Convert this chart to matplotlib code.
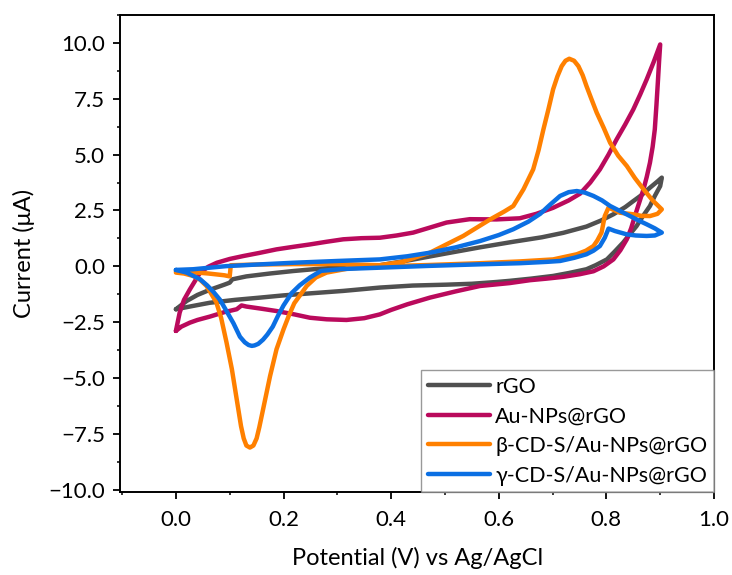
import matplotlib

matplotlib.use("Agg")
import matplotlib.pyplot as plt
from matplotlib.ticker import MultipleLocator, FuncFormatter

plt.rcParams["font.family"] = ["Lato", "DejaVu Sans"]

# ==================== Data ====================
labels = ["rGO", "Au-NPs@rGO", "β-CD-S/Au-NPs@rGO", "γ-CD-S/Au-NPs@rGO"]
colors = ["#505050", "#BA0A5C", "#FF8000", "#0B6FE3"]

# rGO: anodic scan 0 -> 0.9 V, then cathodic scan back to 0 V
rgo_v = [0.0, 0.02, 0.04, 0.063, 0.09, 0.10, 0.105, 0.131, 0.175, 0.218,
         0.26, 0.311, 0.379, 0.44, 0.503, 0.565, 0.627, 0.68, 0.72, 0.763,
         0.79, 0.813, 0.835, 0.850, 0.866, 0.881, 0.895, 0.903,
         0.900, 0.89, 0.881, 0.868, 0.856, 0.843, 0.831, 0.815, 0.801, 0.78,
         0.763, 0.73, 0.701, 0.66, 0.62, 0.596, 0.55, 0.503, 0.44, 0.379,
         0.311, 0.249, 0.2, 0.156, 0.11, 0.063, 0.03, 0.0]
rgo_i = [-1.92, -1.55, -1.28, -1.05, -0.82, -0.73, -0.58, -0.45, -0.32, -0.21,
         -0.12, -0.04, 0.05, 0.30, 0.58, 0.85, 1.10, 1.30, 1.50, 1.78,
         2.05, 2.33, 2.65, 2.92, 3.20, 3.52, 3.80, 3.97,
         3.59, 3.15, 2.70, 2.25, 1.80, 1.42, 1.06, 0.65, 0.31, 0.05,
         -0.13, -0.30, -0.43, -0.55, -0.65, -0.70, -0.78, -0.82, -0.86, -0.95,
         -1.10, -1.21, -1.30, -1.40, -1.50, -1.63, -1.78, -1.92]

au_v = [0.0, 0.007, 0.015, 0.026, 0.045, 0.06, 0.076, 0.10, 0.125, 0.155,
        0.187, 0.22, 0.249, 0.28, 0.311, 0.345, 0.379, 0.41, 0.441, 0.47,
        0.503, 0.546, 0.596, 0.639, 0.67, 0.701, 0.73, 0.751, 0.77, 0.788,
        0.804, 0.819, 0.835, 0.850, 0.863, 0.875, 0.888, 0.900,
        0.898, 0.896, 0.893, 0.890, 0.886, 0.881, 0.875, 0.869, 0.861, 0.853,
        0.846, 0.838, 0.826, 0.813, 0.795, 0.776, 0.751, 0.72, 0.689, 0.658,
        0.62, 0.565, 0.52, 0.472, 0.43, 0.40, 0.379, 0.35, 0.317, 0.28,
        0.249, 0.22, 0.187, 0.16, 0.131, 0.122, 0.113, 0.09, 0.063, 0.04,
        0.026, 0.01, 0.0]
au_i = [-2.89, -2.07, -1.50, -1.03, -0.28, -0.02, 0.16, 0.33, 0.46, 0.60,
        0.76, 0.88, 0.98, 1.10, 1.21, 1.26, 1.28, 1.38, 1.51, 1.72,
        1.96, 2.11, 2.10, 2.15, 2.35, 2.62, 2.95, 3.25, 3.75, 4.34,
        5.00, 5.68, 6.35, 7.02, 7.70, 8.37, 9.15, 9.93,
        9.20, 8.37, 7.20, 6.13, 5.35, 4.64, 4.00, 3.45, 2.85, 2.25,
        1.70, 1.21, 0.72, 0.31, 0.0, -0.22, -0.35, -0.47, -0.55, -0.62,
        -0.75, -0.88, -1.12, -1.40, -1.70, -1.95, -2.15, -2.32, -2.40, -2.37,
        -2.30, -2.15, -2.00, -1.90, -1.80, -1.75, -1.92, -2.05, -2.25, -2.40,
        -2.52, -2.70, -2.89]

beta_v = [0.0, 0.03, 0.06, 0.09, 0.10, 0.102, 0.15, 0.218, 0.30, 0.379,
          0.42, 0.472, 0.534, 0.584, 0.61, 0.627, 0.646, 0.664, 0.674, 0.683,
          0.692, 0.701, 0.709, 0.717, 0.724, 0.731, 0.74, 0.748, 0.756, 0.763,
          0.772, 0.782, 0.795, 0.807, 0.822, 0.838, 0.853, 0.869, 0.886, 0.903,
          0.895, 0.881, 0.865, 0.850, 0.825, 0.804, 0.797, 0.791, 0.783, 0.776,
          0.762, 0.745, 0.701, 0.639, 0.565, 0.47, 0.379, 0.32, 0.28, 0.26,
          0.243, 0.232, 0.22, 0.21, 0.20, 0.187, 0.175, 0.162, 0.155, 0.150,
          0.144, 0.1375, 0.131, 0.126, 0.121, 0.116, 0.104, 0.094, 0.084,
          0.075, 0.057, 0.045, 0.032, 0.015, 0.0]
beta_i = [-0.22, -0.26, -0.32, -0.40, -0.45, 0.05, 0.08, 0.10, 0.10, 0.05,
          0.20, 0.61, 1.36, 2.10, 2.45, 2.70, 3.45, 4.34, 5.20, 6.13,
          7.00, 7.92, 8.50, 8.96, 9.20, 9.29, 9.20, 8.96, 8.55, 8.07,
          7.50, 6.88, 6.20, 5.53, 4.95, 4.49, 3.95, 3.45, 2.95, 2.55,
          2.35, 2.25, 2.26, 2.33, 2.40, 2.63, 2.25, 1.51, 1.15, 0.91,
          0.70, 0.54, 0.31, 0.22, 0.14, 0.06, 0.0, -0.10, -0.28, -0.50,
          -0.88, -1.25, -1.65, -2.20, -2.82, -3.71, -4.91, -6.40, -7.20, -7.70,
          -8.02, -8.11, -8.02, -7.70, -7.15, -6.40, -4.60, -3.40, -2.30,
          -1.60, -0.88, -0.60, -0.43, -0.32, -0.28]

gamma_v = [0.0, 0.032, 0.094, 0.15, 0.218, 0.30, 0.379, 0.43, 0.472, 0.52,
           0.565, 0.60, 0.627, 0.655, 0.677, 0.695, 0.714, 0.73, 0.745, 0.76,
           0.776, 0.792, 0.807, 0.825, 0.844, 0.86, 0.875, 0.89, 0.903,
           0.89, 0.875, 0.855, 0.838, 0.816, 0.804, 0.797, 0.788, 0.776, 0.763,
           0.74, 0.714, 0.689, 0.639, 0.565, 0.47, 0.379, 0.31, 0.27, 0.249,
           0.23, 0.215, 0.20, 0.19, 0.18, 0.17, 0.162, 0.153, 0.146, 0.141,
           0.135, 0.128, 0.119, 0.107, 0.094, 0.082, 0.07, 0.058, 0.045, 0.02,
           0.0]
gamma_i = [-0.16, -0.13, 0.01, 0.08, 0.16, 0.24, 0.31, 0.45, 0.61, 0.85,
           1.13, 1.40, 1.66, 2.00, 2.35, 2.75, 3.15, 3.32, 3.37, 3.30,
           3.15, 2.95, 2.70, 2.48, 2.25, 2.05, 1.88, 1.70, 1.51,
           1.38, 1.36, 1.38, 1.43, 1.58, 1.69, 1.28, 0.91, 0.70, 0.54,
           0.38, 0.24, 0.20, 0.14, 0.09, 0.02, -0.06, -0.12, -0.20, -0.50,
           -0.85, -1.20, -1.75, -2.20, -2.70, -3.05, -3.28, -3.47, -3.54, -3.56,
           -3.52, -3.40, -3.15, -2.55, -2.00, -1.50, -1.15, -0.85, -0.58, -0.28,
           -0.16]

series_v = [rgo_v, au_v, beta_v, gamma_v]
series_i = [rgo_i, au_i, beta_i, gamma_i]

# ==================== Plot ====================
fig = plt.figure(figsize=(7.32, 5.75), dpi=100)
ax = fig.add_axes([0.1646, 0.1443, 0.8108, 0.8297])

for v, i, c, lab in zip(series_v, series_i, colors, labels):
    ax.plot(v, i, color=c, lw=3.2, label=lab,
            solid_joinstyle="round", solid_capstyle="round")

ax.set_xlim(-0.103, 1.0)
ax.set_ylim(-10.1, 11.25)
ax.xaxis.set_major_locator(MultipleLocator(0.2))
ax.xaxis.set_minor_locator(MultipleLocator(0.1))
ax.yaxis.set_major_locator(MultipleLocator(2.5))
ax.yaxis.set_minor_locator(MultipleLocator(1.25))
fmt = FuncFormatter(lambda x, pos: f"{x:.1f}".replace("-", "\u2212"))
ax.xaxis.set_major_formatter(fmt)
ax.yaxis.set_major_formatter(fmt)
ax.tick_params(which="major", direction="out", length=5, width=1.3,
               labelsize=16, pad=6)
ax.tick_params(which="minor", direction="out", length=2.5, width=1.1)
ax.tick_params(axis="x", pad=8)

for s in ax.spines.values():
    s.set_linewidth(1.4)

ax.set_xlabel("Potential (V) vs Ag/AgCl", fontsize=17, labelpad=12)
ax.set_ylabel("Current (μA)", fontsize=17, labelpad=10)

leg = ax.legend(loc="lower right", fontsize=15.5, frameon=True, fancybox=False,
                borderaxespad=0, handlelength=2.9, handletextpad=0.25,
                labelspacing=0.45, borderpad=0.3)
leg.get_frame().set_edgecolor("#808080")
leg.get_frame().set_linewidth(1.0)

fig.savefig("out.png", dpi=100)
plt.close(fig)
